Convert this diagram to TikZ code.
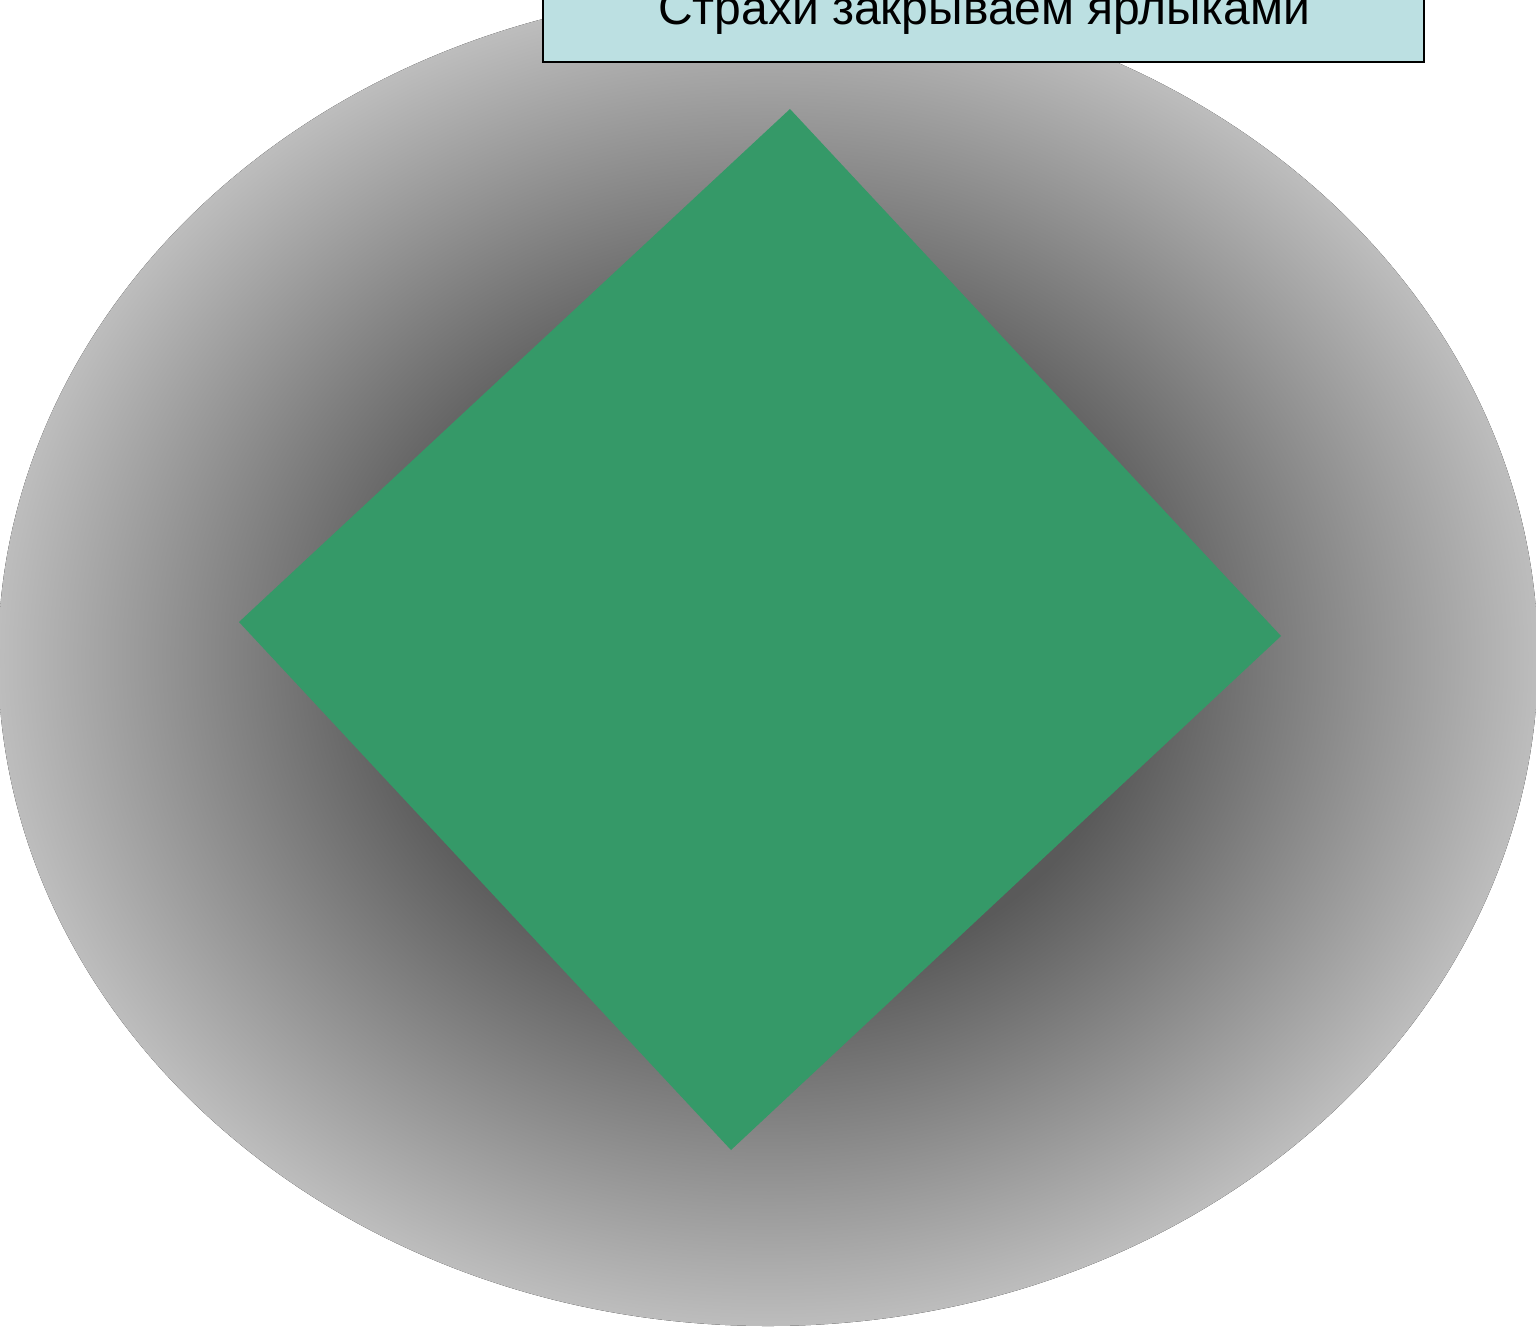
\documentclass[tikz,border=0pt]{standalone}
\usepackage{fontspec}
\setmainfont{Liberation Sans}
\definecolor{dgreen}{RGB}{53,153,104}
\definecolor{lblue}{RGB}{188,224,226}
\definecolor{gcore}{RGB}{82,82,82}
\definecolor{gmid}{RGB}{90,90,90}
\definecolor{gedge}{RGB}{189,189,189}
\pgfdeclareradialshading{bgshade}{\pgfpoint{0bp}{0bp}}{color(0bp)=(gcore);color(12bp)=(gmid);color(25bp)=(gedge);color(50bp)=(gedge)}
\tikzset{
  titlebox/.style={draw=black, line width=2pt, fill=lblue},
  titletext/.style={font=\fontsize{48}{56}\selectfont, anchor=base, inner sep=0pt},
}
\begin{document}
\begin{tikzpicture}[x=1pt,y=-1pt]
\useasboundingbox (0,0) rectangle (1536,1326);
\clip (0,0) rectangle (1536,1326);
\fill[shading=bgshade] (768,658) ellipse [x radius=770, y radius=668];
\fill[dgreen] (790,109) -- (1281,636) -- (731,1150) -- (239,622) -- cycle;
\draw[titlebox] (543,-60) rectangle (1424,62);
\node[titletext] (title) at (984,24) {Страхи закрываем ярлыками};
\end{tikzpicture}
\end{document}
